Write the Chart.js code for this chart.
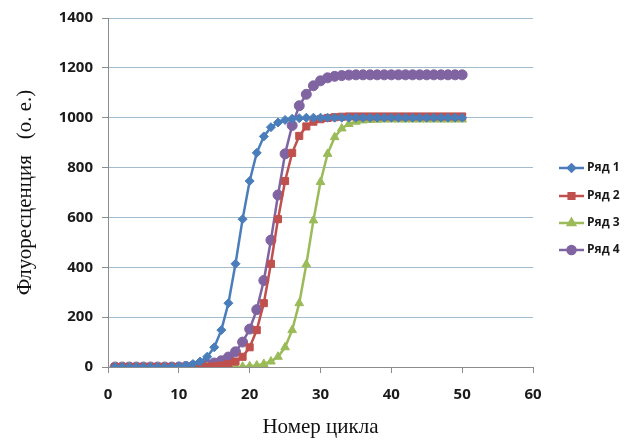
<!DOCTYPE html>
<html>
<head>
<meta charset="utf-8">
<script src="https://cdn.jsdelivr.net/npm/chart.js@4/dist/chart.umd.min.js"></script>
<style>
  html, body { margin: 0; padding: 0; background: #fff; }
  #wrap { width: 633px; height: 444px; }
</style>
</head>
<body>
<div id="wrap"><canvas id="chart" width="633" height="444"></canvas></div>
<script>
// cycle numbers 1..50
const cycles = [1, 2, 3, 4, 5, 6, 7, 8, 9, 10, 11, 12, 13, 14, 15, 16, 17, 18, 19, 20,
  21, 22, 23, 24, 25, 26, 27, 28, 29, 30, 31, 32, 33, 34, 35, 36, 37, 38, 39, 40,
  41, 42, 43, 44, 45, 46, 47, 48, 49, 50];

const series1 = [0, 0, 0, 0, 0, 0, 0, 0, 1, 3, 6, 12, 22, 41, 79, 148, 256, 414, 593, 746,
  859, 925, 962, 981, 991, 996, 998, 1000, 1000, 1000, 1000, 1000, 1000, 1000, 1000, 1000, 1000, 1000, 1000, 1000,
  1000, 1000, 1000, 1000, 1000, 1000, 1000, 1000, 1000, 1000];

const series2 = [0, 0, 0, 0, 0, 0, 0, 0, 0, 0, 0, 0, 0, 1, 3, 6, 12, 22, 41, 79,
  148, 256, 414, 593, 746, 859, 927, 965, 984, 994, 999, 1002, 1004, 1005, 1005, 1005, 1005, 1005, 1005, 1005,
  1005, 1005, 1005, 1005, 1005, 1005, 1005, 1005, 1005, 1005];

const series3 = [0, 0, 0, 0, 0, 0, 0, 0, 0, 0, 0, 0, 0, 0, 0, 0, 0, 0, 1, 3,
  6, 12, 22, 41, 79, 148, 256, 412, 588, 742, 855, 922, 957, 975, 984, 989, 991, 992, 993, 993,
  993, 993, 993, 993, 993, 993, 993, 993, 993, 993];

const series4 = [0, 0, 0, 0, 0, 0, 0, 0, 0, 0, 2, 4, 7, 11, 16, 25, 40, 61, 100, 152,
  230, 347, 509, 690, 855, 969, 1048, 1094, 1128, 1148, 1160, 1166, 1169, 1171, 1172, 1172, 1172, 1172, 1172, 1172,
  1172, 1172, 1172, 1172, 1172, 1172, 1172, 1172, 1172, 1172];

const seriesNames = ['Ряд 1', 'Ряд 2', 'Ряд 3', 'Ряд 4'];
const xTitle = 'Номер цикла';
const yTitle = 'Флуоресценция   (о. е.)';

function toPoints(values) {
  return values.map((v, i) => ({ x: cycles[i], y: v }));
}

const tickFont = { family: '"Open Sans", sans-serif', size: 15, weight: 'bold' };
const titleFont = { family: '"Liberation Serif", "DejaVu Serif", serif', size: 21 };
const gridBlue = '#a3bccd';
const axisGray = '#8c8c8c';

// legend drawn as Excel-style line+marker samples
const sideLegend = {
  id: 'sideLegend',
  afterDraw(chart) {
    const ctx = chart.ctx;
    const rows = [168, 196, 223, 250];
    ctx.save();
    chart.data.datasets.forEach((ds, i) => {
      const y = rows[i];
      ctx.strokeStyle = ds.borderColor;
      ctx.lineWidth = 2.5;
      ctx.beginPath();
      ctx.moveTo(559, y);
      ctx.lineTo(584, y);
      ctx.stroke();
      ctx.fillStyle = ds.pointBackgroundColor;
      ctx.strokeStyle = ds.pointBorderColor;
      Chart.helpers.drawPoint(ctx, {
        pointStyle: ds.pointStyle, radius: ds.pointRadius - 1, rotation: 0, borderWidth: 1
      }, 571.5, y);
      ctx.fillStyle = '#1a1a1a';
      ctx.font = 'bold 12px "Open Sans", sans-serif';
      ctx.textBaseline = 'middle';
      ctx.textAlign = 'left';
      ctx.fillText(ds.label, 587, y);
    });
    ctx.restore();
  }
};

function makeSet(label, values, color, style, radius) {
  return {
    label: label,
    data: toPoints(values),
    borderColor: color,
    backgroundColor: color,
    pointBackgroundColor: color,
    pointBorderColor: color,
    pointStyle: style,
    pointRadius: radius,
    pointBorderWidth: 1,
    borderWidth: 2.5,
    tension: 0
  };
}

new Chart(document.getElementById('chart'), {
  type: 'line',
  data: {
    datasets: [
      makeSet(seriesNames[0], series1, '#4a7ebb', 'rectRot', 4.5),
      makeSet(seriesNames[1], series2, '#c0504d', 'rect', 5),
      makeSet(seriesNames[2], series3, '#9bbb59', 'triangle', 5),
      makeSet(seriesNames[3], series4, '#8064a2', 'circle', 5)
    ]
  },
  options: {
    responsive: false,
    animation: false,
    layout: { padding: { left: 0, right: 100, top: 16, bottom: 0 } },
    plugins: { legend: { display: false }, tooltip: { enabled: false } },
    scales: {
      x: {
        type: 'linear',
        min: 0,
        max: 60,
        ticks: { stepSize: 10, color: '#1a1a1a', font: tickFont, padding: 13, maxRotation: 0,
          callback: (v) => String(v) },
        grid: { drawOnChartArea: false, tickLength: 6, color: axisGray, tickColor: axisGray },
        border: { color: axisGray, width: 1 },
        title: { display: true, text: xTitle, color: '#111', font: titleFont, padding: { top: 0, bottom: 4 } },
        afterFit(scale) { scale.height = 77; }
      },
      y: {
        min: 0,
        max: 1400,
        ticks: { stepSize: 200, color: '#1a1a1a', font: tickFont, padding: 9,
          callback: (v) => String(v) },
        grid: { color: gridBlue, tickLength: 6, tickColor: axisGray },
        border: { color: axisGray, width: 1 },
        title: { display: true, text: yTitle, color: '#111', font: titleFont, padding: { top: 13, bottom: 0 } },
        afterFit(scale) { scale.width = 108; }
      }
    }
  },
  plugins: [sideLegend]
});
</script>
</body>
</html>
